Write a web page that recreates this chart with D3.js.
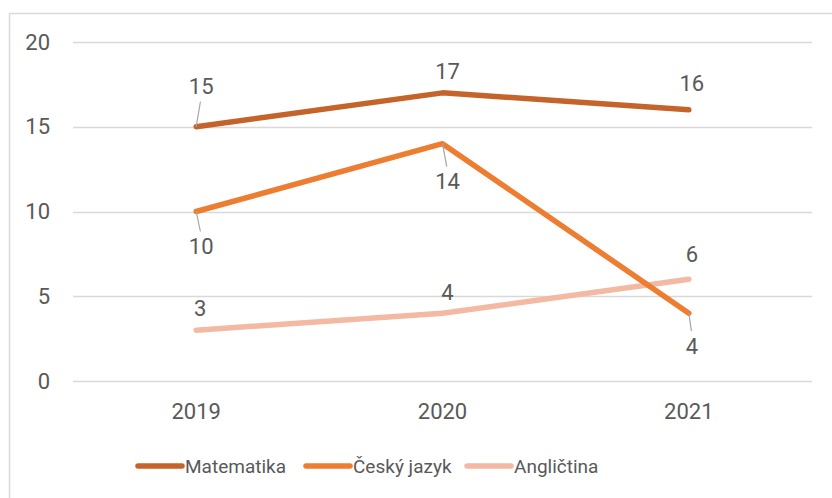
<!DOCTYPE html>
<html>
<head>
<meta charset="utf-8">
<script src="https://cdn.jsdelivr.net/npm/d3@7"></script>
<style>
  body { margin: 0; background: #fff; }
  text { font-family: 'Roboto', sans-serif; fill: #595959; }
</style>
</head>
<body>
<svg id="chart"></svg>
<script>
// the data
var years = ['2019', '2020', '2021']
var seriesNames = ['Matematika', 'Český jazyk', 'Angličtina']
var matematika = [15, 17, 16]
var ceskyJazyk = [10, 14, 4]
var anglictina = [3, 4, 6]
var yTicks = [0, 5, 10, 15, 20]

var colors = ['#C5642A', '#ED7D31', '#F4B9A2']
// label offsets (px) from the point, as placed in the original
var labelOffsets = [
    [[5, -40], [5, -21], [3, -26]],
    [[5, 35], [5, 38], [3, 33]],
    [[4, -22], [5, -21], [3, -25]]
]

window.onload = () => {
    var width = 832, height = 498
    var margin = { left: 73, right: 20, top: 42, bottom: 117 }

    var svg = d3.select('#chart')
        .attr('width', width)
        .attr('height', height)

    // outer frame (only top and left visible)
    svg.append('rect')
        .attr('x', 9.5).attr('y', 13.5)
        .attr('width', 900).attr('height', 600)
        .attr('fill', 'none')
        .attr('stroke', '#D9D9D9')
        .attr('stroke-width', 1.5)

    var xScale = d3.scaleBand()
        .domain(years)
        .range([margin.left, width - margin.right])

    var yScale = d3.scaleLinear()
        .domain([0, 20])
        .range([height - margin.bottom, margin.top])

    // gridlines
    svg.append('g')
        .selectAll('line')
        .data(yTicks)
        .join('line')
        .attr('x1', margin.left)
        .attr('x2', width - margin.right)
        .attr('y1', d => Math.round(yScale(d)) + 0.5)
        .attr('y2', d => Math.round(yScale(d)) + 0.5)
        .attr('stroke', '#D9D9D9')
        .attr('stroke-width', 1.5)

    // y axis labels
    var yAxis = d3.axisLeft(yScale).tickValues(yTicks).tickSize(0).tickPadding(0)
    var yg = svg.append('g')
        .attr('transform', 'translate(50,0)')
        .call(yAxis)
    yg.select('.domain').remove()
    yg.selectAll('text')
        .style('font-size', '22px')
        .style('font-family', null)
        .attr('fill', null)

    // x axis labels
    var xAxis = d3.axisBottom(xScale).tickSize(0).tickPadding(0)
    var xg = svg.append('g')
        .attr('transform', 'translate(0,' + (yScale(0) + 22) + ')')
        .call(xAxis)
    xg.select('.domain').remove()
    xg.selectAll('text')
        .style('font-size', '22px')
        .style('font-family', null)
        .attr('fill', null)

    var allSeries = [matematika, ceskyJazyk, anglictina]
    var cx = d => xScale(d) + xScale.bandwidth() / 2

    var line = d3.line()
        .x((d, i) => cx(years[i]))
        .y(d => yScale(d))

    // draw lighter series first so darker sit on top like original
    var order = [2, 0, 1]
    order.forEach(function (s) {
        svg.append('path')
            .datum(allSeries[s])
            .attr('d', line)
            .attr('fill', 'none')
            .attr('stroke', colors[s])
            .attr('stroke-width', 5.5)
            .attr('stroke-linecap', 'round')
            .attr('stroke-linejoin', 'round')
    })

    // data labels + leader lines
    allSeries.forEach(function (vals, s) {
        vals.forEach(function (v, i) {
            var px = cx(years[i]), py = yScale(v)
            var off = labelOffsets[s][i]
            var lx = px + off[0], ly = py + off[1]
            if (Math.abs(off[1]) > 30) {
                var dir = off[1] < 0 ? -1 : 1
                svg.append('line')
                    .attr('x1', px).attr('y1', py)
                    .attr('x2', px + off[0] * 0.85)
                    .attr('y2', ly - dir * 15)
                    .attr('stroke', '#A6A6A6')
                    .attr('stroke-width', 1.2)
            }
            svg.append('text')
                .attr('x', lx)
                .attr('y', ly)
                .attr('text-anchor', 'middle')
                .attr('dominant-baseline', 'central')
                .style('font-size', '22px')
                .text(v)
        })
    })

    // legend
    var legendX = [138, 306, 467]
    var legend = svg.append('g')
        .selectAll('g')
        .data(seriesNames)
        .join('g')
        .attr('transform', (d, i) => 'translate(' + legendX[i] + ',466)')
    legend.append('line')
        .attr('x1', 0).attr('x2', 44)
        .attr('stroke', (d, i) => colors[i])
        .attr('stroke-width', 5.5)
        .attr('stroke-linecap', 'round')
    legend.append('text')
        .attr('x', 47)
        .attr('dominant-baseline', 'central')
        .style('font-size', '19px')
        .text(d => d)
}
</script>
</body>
</html>
